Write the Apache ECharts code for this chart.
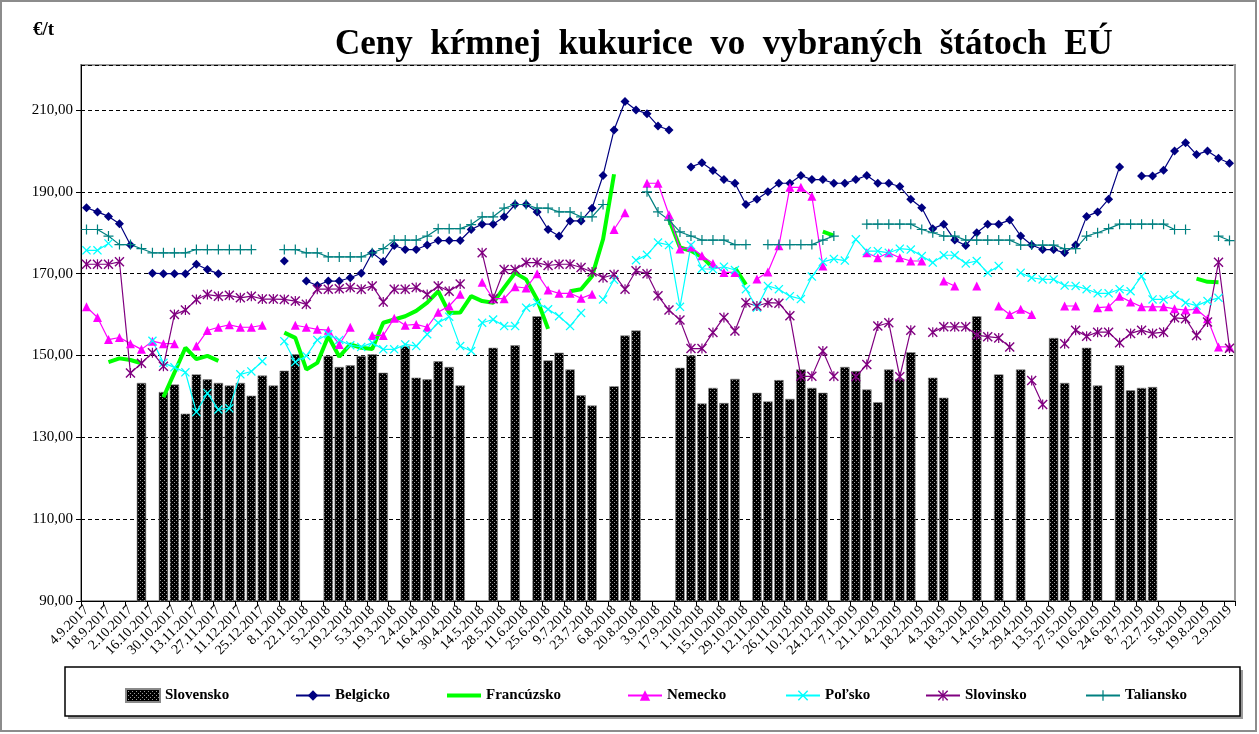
<!DOCTYPE html>
<html><head><meta charset="utf-8">
<script src="https://cdn.jsdelivr.net/npm/echarts@6/dist/echarts.min.js"></script>
<style>html,body{margin:0;padding:0;background:#fff}#c{width:1259px;height:734px}</style>
</head><body><div id="c"></div>
<script>
const categories = [
'4.9.2017','11.9.2017','18.9.2017','25.9.2017','2.10.2017','9.10.2017','16.10.2017','23.10.2017','30.10.2017','6.11.2017',
'13.11.2017','20.11.2017','27.11.2017','4.12.2017','11.12.2017','18.12.2017','25.12.2017','1.1.2018','8.1.2018','15.1.2018',
'22.1.2018','29.1.2018','5.2.2018','12.2.2018','19.2.2018','26.2.2018','5.3.2018','12.3.2018','19.3.2018','26.3.2018',
'2.4.2018','9.4.2018','16.4.2018','23.4.2018','30.4.2018','7.5.2018','14.5.2018','21.5.2018','28.5.2018','4.6.2018',
'11.6.2018','18.6.2018','25.6.2018','2.7.2018','9.7.2018','16.7.2018','23.7.2018','30.7.2018','6.8.2018','13.8.2018',
'20.8.2018','27.8.2018','3.9.2018','10.9.2018','17.9.2018','24.9.2018','1.10.2018','8.10.2018','15.10.2018','22.10.2018',
'29.10.2018','5.11.2018','12.11.2018','19.11.2018','26.11.2018','3.12.2018','10.12.2018','17.12.2018','24.12.2018','31.12.2018',
'7.1.2019','14.1.2019','21.1.2019','28.1.2019','4.2.2019','11.2.2019','18.2.2019','25.2.2019','4.3.2019','11.3.2019',
'18.3.2019','25.3.2019','1.4.2019','8.4.2019','15.4.2019','22.4.2019','29.4.2019','6.5.2019','13.5.2019','20.5.2019',
'27.5.2019','3.6.2019','10.6.2019','17.6.2019','24.6.2019','1.7.2019','8.7.2019','15.7.2019','22.7.2019','29.7.2019',
'5.8.2019','12.8.2019','19.8.2019','26.8.2019','2.9.2019'];

const slovensko = [
null,null,null,null,null,143.3,null,141.1,142.9,135.8,
145.4,144.2,143.3,142.7,143.3,140.2,145.1,142.7,146.3,150.3,
null,null,149.9,147.2,147.6,149.9,150.3,145.8,null,152.3,
144.6,144.2,148.6,147.2,142.7,null,null,151.9,null,152.5,
null,159.6,148.8,150.7,146.6,140.3,137.8,null,142.5,154.9,
156.1,null,null,null,147.0,150.0,138.3,142.1,138.4,144.3,
null,140.9,138.8,144.0,139.4,146.6,142.1,140.9,null,147.2,
146.2,141.7,138.6,146.6,144.3,150.8,null,144.6,139.7,null,
null,159.6,null,145.4,null,146.6,null,null,154.3,143.3,
null,151.9,142.7,null,147.6,141.5,142.1,142.3,null,null,
null,null,null,null,null];

const belgicko = [
186.1,185.1,184.0,182.2,177.0,null,170.1,170.0,170.0,170.0,
172.3,171.0,170.0,null,null,null,null,null,173.1,null,
168.2,167.1,168.2,168.2,169.0,170.1,175.1,173.0,176.9,175.9,
175.9,177.0,178.1,178.1,178.1,180.8,182.1,182.1,183.9,186.9,
186.9,185.1,180.8,179.2,182.9,182.9,186.0,194.0,205.1,212.1,
210.0,209.1,206.1,205.1,null,196.1,197.1,195.2,193.0,192.1,
186.9,188.2,190.0,192.1,192.1,194.0,193.0,193.0,192.1,192.1,
193.0,194.0,192.1,192.1,191.3,188.2,186.1,181.0,182.1,178.2,
176.9,180.0,182.1,182.1,183.1,179.2,177.0,175.9,175.9,175.1,
177.0,184.0,185.1,188.2,196.1,null,193.9,193.9,195.3,200.0,
202.0,199.1,200.0,198.2,197.0];

const francuzsko = [
null,null,148.4,149.3,148.9,148.1,null,139.8,145.8,151.9,
149.1,149.9,148.7,null,null,null,null,null,155.6,154.3,
146.6,148.2,154.7,149.7,152.7,151.9,151.6,158.0,158.8,159.6,
160.9,162.9,165.7,160.4,160.5,164.5,163.3,162.9,166.6,170.2,
168.6,163.7,156.5,null,165.7,166.2,169.4,178.4,194.3,null,
null,null,null,183.3,176.4,175.6,174.1,171.4,null,171.4,
167.3,null,null,null,null,null,null,180.3,179.3,null,
null,null,null,null,null,null,null,null,null,null,
null,null,null,null,null,null,null,null,null,null,
null,null,null,null,null,null,null,null,null,null,
null,168.8,168.0,167.9,null];

const nemecko = [
161.9,159.3,153.9,154.4,152.9,151.5,153.5,152.9,152.9,null,
152.3,156.1,156.9,157.5,156.9,156.9,157.4,null,null,157.4,
156.9,156.4,156.2,152.7,156.9,null,154.9,154.9,159.1,157.4,
157.6,156.9,160.6,162.1,165.0,null,167.9,163.9,163.9,166.8,
166.5,170.0,166.0,165.2,165.2,164.0,165.0,null,180.8,184.9,
null,192.1,192.1,184.4,176.0,176.5,174.4,172.5,170.3,170.3,
null,168.7,170.4,176.8,191.1,191.1,188.9,171.9,null,null,
null,175.1,173.9,175.1,173.9,173.1,173.1,null,168.2,167.0,
null,167.0,null,162.1,160.0,161.3,160.0,null,null,162.1,
162.1,null,161.7,161.9,164.5,163.1,161.9,161.9,161.9,161.4,
161.1,161.3,159.0,152.1,152.1];

const polsko = [
175.7,175.7,177.4,null,null,null,153.6,148.2,147.1,145.9,
136.2,140.8,136.8,137.1,145.4,146.1,148.6,null,153.5,148.4,
149.9,153.8,155.2,153.8,152.5,152.1,153.1,151.5,151.5,152.7,
152.3,155.2,158.0,159.5,152.3,151.1,158.0,158.8,157.2,157.2,
161.7,162.9,161.3,159.6,157.2,160.4,null,163.7,168.5,null,
173.3,174.6,177.6,177.0,161.9,177.0,171.2,171.1,171.7,170.9,
166.2,161.7,167.0,166.2,164.5,163.8,169.3,172.9,173.6,173.2,
178.4,175.5,175.5,175.1,176.1,175.9,174.3,172.7,174.5,174.5,
172.5,173.1,170.2,171.9,null,170.2,169.0,168.6,168.6,167.1,
167.0,166.2,165.2,165.2,166.2,165.7,169.4,163.7,163.7,164.8,
162.9,162.2,163.3,164.1,null];

const slovinsko = [
172.3,172.3,172.3,172.9,145.7,148.1,150.7,147.4,160.0,161.1,
163.7,164.9,164.5,164.7,164.1,164.5,163.8,163.8,163.7,163.3,
162.5,166.2,166.2,166.3,166.6,166.2,167.0,163.1,166.2,166.2,
166.6,164.9,167.0,165.7,167.5,null,175.1,163.9,171.0,171.0,
172.7,172.7,172.0,172.3,172.3,171.5,170.4,169.0,169.8,166.2,
170.7,170.0,164.6,161.1,158.7,151.7,151.7,155.6,159.3,156.0,
162.9,162.1,162.9,162.8,159.7,144.9,144.9,151.1,144.9,null,
144.8,147.8,157.2,158.0,144.8,156.2,null,155.7,157.0,157.0,
157.0,155.0,154.6,154.3,152.1,null,143.9,138.0,null,152.9,
156.2,154.7,155.7,155.7,153.1,155.4,156.2,155.4,155.7,159.2,
159.0,154.9,158.2,172.8,151.8];

const taliansko = [
180.8,180.8,179.2,177.1,177.1,176.1,175.1,175.1,175.1,175.1,
175.9,175.9,175.9,175.9,175.9,175.9,null,null,175.9,175.9,
175.1,175.1,174.1,174.1,174.1,174.1,175.1,176.1,178.2,178.2,
178.2,179.2,181.0,181.0,181.0,182.0,183.9,183.9,186.0,186.9,
186.9,186.0,186.0,185.1,185.1,183.9,183.9,186.9,null,null,
null,190.0,185.1,183.1,180.2,179.2,178.2,178.2,178.2,177.1,
177.1,null,177.1,177.1,177.1,177.1,177.1,178.2,179.2,null,
null,182.1,182.1,182.1,182.1,182.1,180.8,180.0,179.2,179.2,
178.2,178.2,178.2,178.2,178.2,177.0,177.0,177.0,177.0,176.1,
176.1,179.2,180.0,181.0,182.1,182.1,182.1,182.1,182.1,180.8,
180.8,null,null,179.2,178.1];

const seriesNames = ['Slovensko','Belgicko','Francúzsko','Nemecko','Poľsko','Slovinsko','Taliansko'];

// bar pattern
const pc = document.createElement('canvas'); pc.width = 4; pc.height = 4;
const px = pc.getContext('2d');
px.fillStyle = '#000'; px.fillRect(0,0,4,4);
px.fillStyle = '#9a9a9a'; px.fillRect(0,0,1,1); px.fillRect(2,2,1,1);
const barPattern = { image: pc, repeat: 'repeat' };

const SERIF = '"Liberation Serif","DejaVu Serif",serif';
const X_PATH = 'path://M0,1L1,0L5,4L9,0L10,1L6,5L10,9L9,10L5,6L1,10L0,9L4,5Z';
const AST_PATH = 'path://M0,1L1,0L5,4L9,0L10,1L6,5L10,9L9,10L5,6L1,10L0,9L4,5Z M4.4,0L5.6,0L5.6,10L4.4,10Z';
const PLUS_PATH = 'path://M4.4,0L5.6,0L5.6,4.4L10,4.4L10,5.6L5.6,5.6L5.6,10L4.4,10L4.4,5.6L0,5.6L0,4.4L4.4,4.4Z';
const BAND_PATH = 'path://M0,0L34,0L34,4L0,4Z';

function lineSeries(name, data, color, symbol, size, width) {
  return {
    name, type: 'line', data, connectNulls: false, showAllSymbol: true,
    symbol, symbolSize: size, showSymbol: symbol !== 'none',
    lineStyle: { color, width }, itemStyle: { color },
    emphasis: { disabled: true }, animation: false
  };
}

const legendX = [120, 290, 442, 622, 780, 920, 1080];
const legends = seriesNames.map((n, k) => {
  let item = n;
  if (n === 'Francúzsko') item = { name: n, icon: BAND_PATH, itemStyle: { color: '#00ff00' } };
  if (n === 'Slovensko') item = { name: n, icon: 'rect' };
  return {
    data: [item], left: legendX[k], top: 683, itemWidth: 34, itemHeight: 13, itemGap: 4,
    symbolKeepAspect: true,
    textStyle: { fontFamily: SERIF, fontWeight: 'bold', fontSize: 15, color: '#000' },
    selectedMode: false
  };
});

const chart = echarts.init(document.getElementById('c'), null, { renderer: 'canvas' });
chart.setOption({
  backgroundColor: '#fff',
  animation: false,
  title: [
    { text: 'Ceny  kŕmnej  kukurice  vo  vybraných  štátoch  EÚ', left: 330, top: 22,
      textStyle: { fontFamily: SERIF, fontWeight: 'bold', fontSize: 35, color: '#000' } },
    { text: '€/t', left: 28, top: 16,
      textStyle: { fontFamily: SERIF, fontWeight: 'bold', fontSize: 19, color: '#000' } }
  ],
  legend: legends,
  graphic: [
    { type: 'rect', shape: { x: 1, y: 1, width: 1255, height: 730 }, style: { fill: 'none', stroke: '#8c8c8c', lineWidth: 2 }, z: -1 },
    { type: 'rect', shape: { x: 68, y: 670, width: 1175, height: 49 }, style: { fill: '#9a9a9a' }, z: -1 },
    { type: 'rect', shape: { x: 65, y: 667, width: 1175, height: 49 }, style: { fill: '#fff', stroke: '#000', lineWidth: 1.5 }, z: -1 }
  ],
  grid: { left: 81, right: 24, top: 65, bottom: 133, show: true, borderColor: '#9a9a9a', borderWidth: 2, backgroundColor: '#fff' },
  xAxis: {
    type: 'category', data: categories, boundaryGap: true,
    axisLine: { lineStyle: { color: '#000', width: 1 } },
    axisTick: { show: true, interval: 1, length: 5, lineStyle: { color: '#000' } },
    axisLabel: { interval: 1, rotate: 45, margin: 7, fontFamily: SERIF, fontSize: 14, color: '#000' },
    splitLine: { show: false }
  },
  yAxis: {
    type: 'value', min: 90, max: 221, interval: 20,
    axisLine: { show: true, lineStyle: { color: '#000', width: 1 } },
    axisTick: { show: true, length: 5, lineStyle: { color: '#000' } },
    axisLabel: { showMaxLabel: false, fontFamily: SERIF, fontSize: 15, color: '#000', margin: 8,
      formatter: v => v.toFixed(2).replace('.', ',') },
    splitLine: { show: true, lineStyle: { color: '#000', type: [4, 3], width: 1 } }
  },
  series: [
    { name: 'Slovensko', type: 'bar', data: slovensko, barWidth: '86%',
      itemStyle: { color: barPattern, borderColor: '#8a8a8a', borderWidth: 0.6 },
      emphasis: { disabled: true } },
    lineSeries('Belgicko', belgicko, '#000080', 'diamond', 9, 1.2),
    lineSeries('Francúzsko', francuzsko, '#00ff00', 'none', 0, 4),
    lineSeries('Nemecko', nemecko, '#ff00ff', 'triangle', 9, 1.2),
    lineSeries('Poľsko', polsko, '#00ffff', X_PATH, 9, 1.2),
    lineSeries('Slovinsko', slovinsko, '#800080', AST_PATH, 10, 1.2),
    lineSeries('Taliansko', taliansko, '#008080', PLUS_PATH, 10, 1.2)
  ]
});
</script></body></html>
